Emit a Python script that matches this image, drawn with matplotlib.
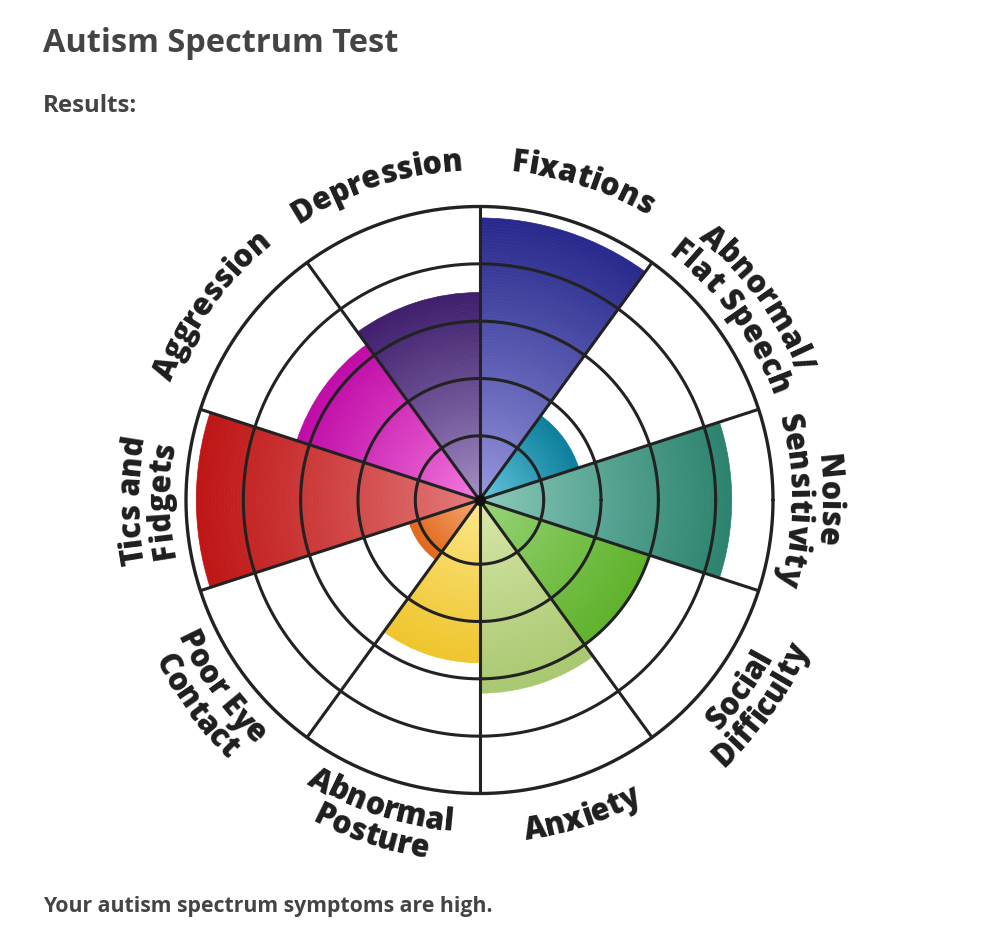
import numpy as np
import matplotlib
matplotlib.use("Agg")
import matplotlib.pyplot as plt
from matplotlib.colors import to_rgb
from matplotlib.font_manager import FontProperties, findfont
from matplotlib.ft2font import FT2Font

# ---------------- data ----------------
categories = ["Fixations", "Abnormal/\nFlat Speech", "Noise\nSensitivity",
              "Social\nDifficulty", "Anxiety", "Abnormal\nPosture",
              "Poor Eye\nContact", "Tics and\nFidgets", "Aggression", "Depression"]
values = [4.8, 1.7, 4.28, 3.0, 3.25, 2.72, 1.17, 4.82, 3.23, 3.5]
inner_colors = ["#9c9ce2", "#6ccde3", "#90cdbf", "#9ad67c", "#dce9ac",
                "#fde98e", "#f7b07e", "#e58080", "#f77fe0", "#a894c8"]
outer_colors = ["#28298c", "#0a7f9c", "#2b836e", "#5fb22a", "#a9c870",
                "#efc52c", "#e2691c", "#bf1515", "#c00aa8", "#3f1e6c"]
ring_levels = [1, 2, 3, 4, 5]
title = "Autism Spectrum Test"
subtitle = "Results:"
footer = "Your autism spectrum symptoms are high."

FAMILY = ["Open Sans", "DejaVu Sans"]
plt.rcParams["font.family"] = FAMILY

W, H, DPI = 988, 936, 100
fig = plt.figure(figsize=(W / DPI, H / DPI), dpi=DPI)
fig.patch.set_facecolor("white")

# polar axes: center (479.5, 500 from top), outer radius 293.5 px
cx, cy, R = 479.5, H - 500, 293.5
ax = fig.add_axes([(cx - R) / W, (cy - R) / H, 2 * R / W, 2 * R / H], projection="polar")
RMIN, RMAX = -0.12, 5
ax.set_ylim(RMIN, RMAX)
ax.axis("off")

n = len(categories)
width = 2 * np.pi / n
centers = np.deg2rad(72 - 36 * np.arange(n))

# gradient wedges
steps = 90
for th, v, ci, co in zip(centers, values, inner_colors, outer_colors):
    edges = np.linspace(RMIN, v, steps + 1)
    t = np.linspace(0, 1, steps)
    c0, c1 = np.array(to_rgb(ci)), np.array(to_rgb(co))
    cols = [tuple(c0 + (c1 - c0) * (tt ** 0.85)) for tt in t]
    ax.bar(np.full(steps, th), edges[1:] - edges[:-1], width=width, bottom=edges[:-1],
           color=cols, edgecolor=cols, linewidth=0.5, zorder=1)

# grid drawn as lines
GC = "#222222"
ring = np.linspace(0, 2 * np.pi, 721)
for lv in ring_levels:
    ax.plot(ring, np.full_like(ring, lv), color=GC, lw=2.4 if lv == RMAX else 2.2,
            solid_capstyle="round", clip_on=False, zorder=4)
for th in centers + width / 2:
    ax.plot([th, th], [RMIN, RMAX], color=GC, lw=2.2, solid_capstyle="butt",
            clip_on=False, zorder=4)
ax.plot([0], [RMIN], "o", color="#111111", ms=7, zorder=5, clip_on=False)

# curved labels
LFS = 22
fp = FontProperties(family=FAMILY, weight=800, size=LFS)
font = FT2Font(findfont(fp))
font.set_size(LFS, DPI)


def advances(s):
    adv = []
    prev = None
    for ch in s:
        g = font.load_char(ord(ch))
        a = g.linearHoriAdvance / 65536.0
        if prev is not None:
            k = font.get_kerning(font.get_char_index(ord(prev)), font.get_char_index(ord(ch)), 0) / 64.0
            adv[-1] += k
        adv.append(a)
        prev = ch
    return np.array(adv)


def curved(text, theta_c, r, top=True):
    adv = advances(text)
    total = adv.sum()
    r_px = (r - RMIN) / (RMAX - RMIN) * R
    pos = np.cumsum(adv) - adv / 2 - total / 2
    for ch, s in zip(text, pos):
        if ch == " ":
            continue
        if top:
            th = theta_c - s / r_px
            rot = np.rad2deg(th) - 90
        else:
            th = theta_c + s / r_px
            rot = np.rad2deg(th) + 90
        ax.text(th, r, ch, rotation=rot, rotation_mode="anchor", ha="center",
                va="baseline", fontproperties=fp, color="#1e1e1e", clip_on=False)


def px2r(px):
    return px / R * (RMAX - RMIN) + RMIN


for th, lab in zip(centers, categories):
    d = (np.rad2deg(th) + 180) % 360 - 180
    top = d > -19 or d < -170
    lines = lab.split("\n")
    if top:
        if len(lines) == 1:
            curved(lines[0], th, px2r(330), True)
        else:
            curved(lines[0], th, px2r(341), True)
            curved(lines[1], th, px2r(310), True)
    else:
        if len(lines) == 1:
            curved(lines[0], th, px2r(343), False)
        else:
            curved(lines[0], th, px2r(332), False)
            curved(lines[1], th, px2r(362), False)

# texts
fig.text(43 / W, 1 - 52 / H, title, fontsize=23.4, fontweight="bold", color="#444444",
         ha="left", va="baseline")
fig.text(43 / W, 1 - 112 / H, subtitle, fontsize=17.3, fontweight="bold", color="#444444",
         ha="left", va="baseline")
fig.text(43 / W, 1 - 912 / H, footer, fontsize=15.3, fontweight="bold", color="#444444",
         ha="left", va="baseline")

fig.savefig("out.png", dpi=DPI, facecolor="white")
